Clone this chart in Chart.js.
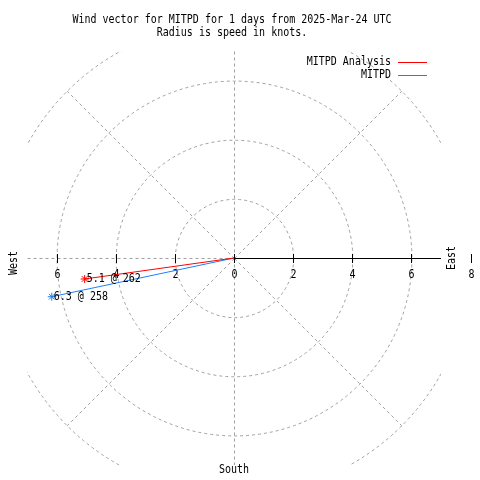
<!DOCTYPE html>
<html lang="en">
<head>
    <meta charset="UTF-8">
    <title>Wind vector MITPD</title>
    <script src="https://cdn.jsdelivr.net/npm/chart.js"></script>
    <style>
        html, body { margin: 0; padding: 0; background: #fff; }
        #box { width: 480px; height: 480px; }
    </style>
</head>
<body>
    <div id="box"><canvas id="grafico"></canvas></div>

    <script>
        // data
        const seriesNames = ['MITPD Analysis', 'MITPD'];
        const speeds = [5.1, 6.3];        // knots
        const directions = [262, 258];    // degrees
        const rings = [2, 4, 6, 8];
        const spokes = [0, 45, 90, 135, 180, 225, 270, 315];
        const tickValues = [-6, -4, -2, 0, 2, 4, 6, 8];
        const titleLines = ['Wind vector for MITPD for 1 days from 2025-Mar-24 UTC', 'Radius is speed in knots.'];

        const colores = ['#ff0000', '#1a80ff'];
        const fonte = '10px "DejaVu Sans Mono", monospace';
        const grisGrade = '#a0a0a0';

        const toXY = (spd, dir) => {
            const a = dir * Math.PI / 180;
            return { x: spd * Math.sin(a), y: spd * Math.cos(a) };
        };

        // text a bit taller than the font, like the original bitmap font
        const texto = (ctx, s, x, y, rot) => {
            ctx.save();
            ctx.translate(x, y);
            if (rot) ctx.rotate(rot);
            ctx.scale(1, 1.15);
            ctx.fillText(s, 0, 0);
            ctx.restore();
        };

        const datasets = seriesNames.map((nome, i) => ({
            label: nome,
            data: [{ x: 0, y: 0 }, toXY(speeds[i], directions[i])],
            borderColor: colores[i],
            backgroundColor: colores[i],
            borderWidth: 1,
            showLine: true,
            pointStyle: 'star',
            pointRadius: [0, 4],
            pointBorderWidth: 1,
            pointHoverRadius: [0, 4]
        }));

        const polarPlugin = {
            id: 'polar',
            beforeDatasetsDraw(chart) {
                const { ctx, chartArea: a, scales: { x, y } } = chart;
                const cx = x.getPixelForValue(0), cy = y.getPixelForValue(0);
                const px = x.getPixelForValue(1) - cx;

                ctx.save();
                ctx.beginPath();
                ctx.rect(a.left, a.top, a.right - a.left, a.bottom - a.top);
                ctx.clip();
                ctx.strokeStyle = grisGrade;
                ctx.lineWidth = 1;
                ctx.setLineDash([3, 3]);
                rings.forEach(r => {
                    ctx.beginPath();
                    ctx.arc(cx + 0.5, cy + 0.5, r * px, 0, Math.PI * 2);
                    ctx.stroke();
                });
                const rmax = rings[rings.length - 1];
                spokes.forEach(d => {
                    if (d === 90) return;
                    const p = toXY(rmax, d);
                    ctx.beginPath();
                    ctx.moveTo(cx + 0.5, cy + 0.5);
                    ctx.lineTo(x.getPixelForValue(p.x) + 0.5, y.getPixelForValue(p.y) + 0.5);
                    ctx.stroke();
                });
                ctx.restore();

                // east axis, solid
                ctx.save();
                ctx.strokeStyle = '#000';
                ctx.lineWidth = 1;
                ctx.beginPath();
                ctx.moveTo(cx, cy + 0.5);
                ctx.lineTo(a.right, cy + 0.5);
                ctx.stroke();
                ctx.font = fonte;
                ctx.fillStyle = '#000';
                ctx.textAlign = 'center';
                ctx.textBaseline = 'middle';
                tickValues.forEach(v => {
                    const tx = Math.round(x.getPixelForValue(v)) + 0.5;
                    ctx.beginPath();
                    ctx.moveTo(tx, cy - 4);
                    ctx.lineTo(tx, cy + 5);
                    ctx.stroke();
                    texto(ctx, String(Math.abs(v)), tx, cy + 17);
                });
                texto(ctx, 'South', cx, 470);
                texto(ctx, 'East', 452, cy, -Math.PI / 2);
                texto(ctx, 'West', 14, cy + 5, -Math.PI / 2);
                ctx.restore();
            },
            afterDatasetsDraw(chart) {
                const { ctx } = chart;
                ctx.save();
                ctx.font = fonte;
                ctx.fillStyle = '#000';
                ctx.textBaseline = 'middle';
                ctx.textAlign = 'center';
                titleLines.forEach((t, i) => texto(ctx, t, 232, 20 + i * 13));

                // point labels
                ctx.textAlign = 'left';
                chart.data.datasets.forEach((ds, i) => {
                    const pt = chart.getDatasetMeta(i).data[1];
                    texto(ctx, speeds[i].toFixed(1) + ' @ ' + directions[i], pt.x + 2, pt.y);
                });

                // legend, text on the left of the sample line
                ctx.textAlign = 'right';
                chart.data.datasets.forEach((ds, i) => {
                    const ly = 62 + i * 13;
                    texto(ctx, ds.label, 391, ly);
                    ctx.strokeStyle = ds.borderColor;
                    ctx.lineWidth = 1;
                    ctx.beginPath();
                    ctx.moveTo(398, ly + 0.5);
                    ctx.lineTo(427, ly + 0.5);
                    ctx.stroke();
                });
                ctx.restore();
            }
        };

        const grafico = new Chart(document.getElementById('grafico'), {
            type: 'scatter',
            data: { datasets: datasets },
            options: {
                responsive: true,
                maintainAspectRatio: false,
                animation: false,
                layout: { padding: { left: 27, right: 39, top: 51, bottom: 15 } },
                scales: {
                    x: { display: false, min: -7, max: 7 },
                    y: { display: false, min: -7, max: 7 }
                },
                plugins: {
                    legend: { display: false },
                    title: { display: false },
                    tooltip: { enabled: false }
                }
            },
            plugins: [polarPlugin]
        });
    </script>
</body>
</html>
